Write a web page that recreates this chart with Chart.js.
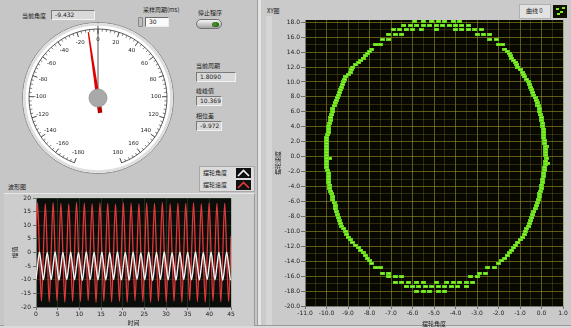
<!DOCTYPE html>
<html><head><meta charset="utf-8">
<script src="https://cdn.jsdelivr.net/npm/chart.js@4"></script>
<style>
html,body{margin:0;padding:0;}
body{width:571px;height:328px;overflow:hidden;background:#c6c6c6;position:relative;font-family:"Noto Sans CJK SC","DejaVu Sans",sans-serif;}
.abs{position:absolute;}
.lbl{position:absolute;font-size:6px;color:#1a1a1a;white-space:nowrap;line-height:8px;}
.ind{position:absolute;background:#d9d9d9;border:1px solid;border-color:#7a7a7a #f2f2f2 #f2f2f2 #7a7a7a;font-size:6px;padding-left:3px;box-sizing:border-box;font-family:"DejaVu Sans",sans-serif;color:#222;white-space:nowrap;}
.ctl{position:absolute;background:#fafafa;border:1px solid;border-color:#6a6a6a #eeeeee #eeeeee #6a6a6a;font-size:6px;padding-left:3px;box-sizing:border-box;font-family:"DejaVu Sans",sans-serif;color:#222;}
canvas{position:absolute;}
</style></head>
<body>
<!-- panels -->
<div class="abs" style="left:257px;top:0;width:1px;height:328px;background:#9c9c9c"></div>
<div class="abs" style="left:258px;top:0;width:3px;height:328px;background:#e4e4e4"></div>
<div class="abs" style="left:261px;top:0;width:310px;height:325px;background:#cacaca"></div>
<div class="abs" style="left:266px;top:16px;width:6px;height:309px;background:#d6d6d6"></div>
<div class="abs" style="left:0;top:325px;width:571px;height:1px;background:#9a9a9a"></div>
<div class="abs" style="left:0;top:326px;width:571px;height:2px;background:#dadada"></div>
<div class="abs" style="left:4px;top:193px;width:250px;height:132px;background:#cdcdcd;border-top:1px solid #e6e6e6;border-right:1px solid #9a9a9a"></div>

<!-- gauge area controls -->
<div class="lbl" style="left:22px;top:12px;">当前角度</div>
<div class="ind" style="left:51px;top:10px;width:44px;height:10px;line-height:8px;">-9.432</div>
<div class="lbl" style="left:143px;top:6px;">采样周期(ms)</div>
<div class="abs" style="left:138px;top:17px;width:5px;height:10px;background:#bdbdbd;border:1px solid #888;box-sizing:border-box;border-radius:1px"></div>
<div class="ctl" style="left:145px;top:17px;width:24px;height:10px;line-height:8px;">30</div>
<div class="lbl" style="left:198px;top:9px;">停止程序</div>
<div class="abs" style="left:196px;top:19px;width:26px;height:10px;border-radius:5px;background:linear-gradient(#f6f6f6,#a4a4a4);border:1px solid #707070;box-sizing:border-box"><div class="abs" style="left:15px;top:1.5px;width:7px;height:5px;border-radius:3px;background:radial-gradient(circle at 40% 40%,#4f9a2c,#1c4d10)"></div></div>
<div class="lbl" style="left:196px;top:62px;">当前周期</div>
<div class="ind" style="left:196px;top:72px;width:40px;height:10px;line-height:8px;">1.8090</div>
<div class="lbl" style="left:196px;top:87px;">峰峰值</div>
<div class="ind" style="left:196px;top:96px;width:26px;height:10px;line-height:8px;">10.369</div>
<div class="lbl" style="left:196px;top:112px;">相位差</div>
<div class="ind" style="left:196px;top:121px;width:26px;height:10px;line-height:8px;">-9.972</div>

<!-- waveform legend -->
<div class="abs" style="left:199px;top:166px;width:56px;height:26px;background:#dcdcdc;border:1px solid #a8a8a8;box-sizing:border-box"></div>
<div class="lbl" style="left:203px;top:169px;">摆轮角度</div>
<div class="lbl" style="left:203px;top:181px;">摆轮速度</div>
<svg class="abs" style="left:236px;top:168px" width="15" height="10"><rect width="15" height="10" fill="#111"/><polyline points="2,8 7.5,2.5 13,8" fill="none" stroke="#f4f4f4" stroke-width="1.6"/></svg>
<svg class="abs" style="left:236px;top:180px" width="15" height="10"><rect width="15" height="10" fill="#111"/><polyline points="2,8 7.5,2.5 13,8" fill="none" stroke="#e23a3a" stroke-width="1.6"/></svg>
<div class="lbl" style="left:8px;top:183px;">波形图</div>

<!-- xy labels -->
<div class="lbl" style="left:267px;top:7px;">XY图</div>
<div class="abs" style="left:519px;top:4px;width:32px;height:15px;background:#e2e2e2;border:1px solid #b0b0b0;box-sizing:border-box"></div>
<div class="lbl" style="left:526px;top:7px;">曲线 0</div>
<svg class="abs" style="left:553px;top:5px" width="14" height="13"><rect width="14" height="13" fill="#101000"/><rect x="3" y="3" width="3" height="2" fill="#7cf020"/><rect x="7" y="6" width="3" height="2" fill="#7cf020"/><rect x="4" y="8" width="3" height="2" fill="#7cf020"/><rect x="9" y="2" width="3" height="2" fill="#7cf020"/></svg>

<canvas id="gauge" width="152" height="152" style="left:22px;top:22px"></canvas>
<canvas id="wave" width="258" height="138" style="left:0px;top:190px"></canvas>
<canvas id="xy" width="309" height="328" style="left:262px;top:0px"></canvas>

<script>
// ---------------- data ----------------
const gaugeTickLabels = [-180,-160,-140,-120,-100,-80,-60,-40,-20,0,20,40,60,80,100,120,140,160,180];
const gaugeValue = -9.432;

const waveTicksX = [0,5,10,15,20,25,30,35,40,45];
const waveTicksY = [-20,-15,-10,-5,0,5,10,15,20];
const waveTime = [0,0.35,0.8,1.25,1.7,2.15,2.6,3.05,3.5,3.95,4.4,4.85,5.3,5.75,6.2,6.65,7.1,7.55,8.0,8.45,8.9,9.35,9.8,10.25,10.7,11.15,11.6,12.05,12.5,12.95,13.4,13.85,14.3,14.75,15.2,15.65,16.1,16.55,17.0,17.45,17.9,18.35,18.8,19.25,19.7,20.15,20.6,21.05,21.5,21.95,22.4,22.85,23.3,23.75,24.2,24.65,25.1,25.55,26.0,26.45,26.9,27.35,27.8,28.25,28.7,29.15,29.6,30.05,30.5,30.95,31.4,31.85,32.3,32.75,33.2,33.65,34.1,34.55,35.0,35.45,35.9,36.35,36.8,37.25,37.7,38.15,38.6,39.05,39.5,39.95,40.4,40.85,41.3,41.75,42.2,42.65,43.1,43.55,44.0,44.45,44.9,45];
const speedWave = [6.2,
 18.2,0.3,-17.8,-0.2, 17.9,0.1,-18.1,0.2, 18.3,-0.2,-17.7,0.1, 18.0,0.2,-18.2,-0.1, 17.8,0.0,-17.9,0.3,
 18.4,0.1,-18.0,-0.2, 18.1,-0.1,-17.6,0.2, 17.9,0.3,-18.3,0.0, 18.2,0.1,-17.8,-0.1, 18.0,-0.2,-18.1,0.2,
 17.7,0.2,-17.9,0.1, 18.3,0.0,-18.2,-0.2, 18.1,0.1,-17.7,0.0, 17.9,-0.1,-18.0,0.3, 18.2,0.2,-18.3,-0.1,
 18.0,0.0,-17.8,0.1, 18.4,0.1,-18.1,-0.2, 17.8,-0.2,-17.9,0.2, 18.1,0.3,-18.2,0.0, 18.0,0.1,-17.6,-0.1,
 18.3,-0.1,-18.0,0.2, 17.9,0.2,-18.3,0.1, 18.2,0.0,-17.8,-0.2, 18.0,0.1,-18.1,0.0, 18.1,-0.2,-17.9,0.1,
 6.1];
const angleWave = [-9.8,
 -5.1,0.1,-4.9,-10.0, -5.0,-0.1,-5.1,-9.9, -4.9,0.2,-5.0,-10.1, -5.1,0.0,-4.9,-9.9, -5.0,0.1,-5.2,-10.0,
 -4.8,-0.1,-5.0,-10.2, -5.1,0.2,-4.9,-9.9, -5.0,0.0,-5.1,-10.0, -4.9,0.1,-5.0,-10.1, -5.2,-0.1,-4.8,-9.9,
 -5.0,0.2,-5.1,-10.0, -4.9,0.0,-5.0,-10.1, -5.1,0.1,-4.9,-9.8, -5.0,-0.2,-5.1,-10.0, -4.8,0.1,-5.0,-10.2,
 -5.1,0.0,-4.9,-9.9, -5.0,0.2,-5.2,-10.0, -4.9,-0.1,-5.0,-10.1, -5.1,0.1,-4.8,-9.9, -5.0,0.0,-5.1,-10.0,
 -4.9,0.2,-5.0,-10.1, -5.2,-0.1,-4.9,-9.9, -5.0,0.1,-5.1,-10.0, -4.9,0.0,-5.0,-10.2, -5.1,0.1,-4.9,-10.0,
 -9.8];

const xyTicksX = [-11,-10,-9,-8,-7,-6,-5,-4,-3,-2,-1,0,1];
const xyTicksY = [-20,-18,-16,-14,-12,-10,-8,-6,-4,-2,0,2,4,6,8,10,12,14,16,18];
// XY samples: top/bottom runs and both sides (angle, speed)
const xyAngle = [
 -5.9,-5.5,-5.1,-4.8,-4.5,-4.1,-3.8,
 -6.4,-6.1,-5.8,-5.5,-5.2,-4.9,-4.6,-4.3,-4.0,-3.7,-3.4,
 -6.9,-6.6,-6.3,-6.0,-5.6,-4.9,-4.0,-3.7,-3.4,-3.1,-2.8,
 -7.1,-6.8,-6.5,-3.0,-2.7,-2.4,
 -7.4,-7.1,-2.4,-2.1,
 -7.7,-7.5,-2.0,-1.8,
 -7.9,-1.7, -8.1,-1.5, -8.3,-1.4, -8.5,-1.2, -8.8,-1.1, -8.9,-0.9, -9.1,-0.8, -9.2,-0.6, -9.3,-0.5, -9.4,-0.4,
 -9.5,-0.3, -9.6,-0.2, -9.7,-0.1, -9.75,-0.05, -9.8,0.0, -9.9,0.05, -9.9,0.1, -10.0,0.1, -10.0,0.15, -10.0,0.2,
 -10.0,0.2, -10.0,0.2, -10.0,0.15, -9.9,0.1, -9.9,0.05, -9.85,0.0, -9.8,-0.05, -9.7,-0.1, -9.65,-0.2, -9.6,-0.3,
 -9.5,-0.4, -9.4,-0.5, -9.3,-0.6, -9.1,-0.75, -9.0,-0.9, -8.8,-1.1, -8.5,-1.3, -8.3,-1.5, -8.1,-1.7, -7.9,-2.0,
 -7.7,-7.5,-2.2,-2.5,
 -7.4,-7.1,-2.6,-2.9,
 -7.1,-6.8,-6.5,-3.0,-3.3,
 -6.8,-6.5,-6.2,-5.8,-5.5,-4.9,-4.4,-4.1,-3.8,-3.5,-3.2,
 -6.3,-6.0,-5.7,-5.4,-5.1,-4.8,-4.5,-4.2,-3.9,-3.5,
 -5.8,-5.5,-5.2,-4.8,-4.5,
 -9.85,0.3,0.25,-0.2,-9.55,-0.55,-1.0,
 -8.0,-1.6, -8.2,-1.45, -8.4,-1.3, -8.65,-1.15, -8.85,-1.0, -9.0,-0.85, -9.15,-0.7, -9.25,-0.55, -9.35,-0.45, -9.45,-0.35,
 -9.55,-0.25, -9.65,-0.15, -9.7,-0.1, -9.8,0.0, -9.85,0.05, -9.9,0.1, -9.95,0.1, -10.0,0.15, -10.0,0.2, -10.0,0.2,
 -10.0,0.25, -10.0,0.2, -9.95,0.15, -9.9,0.1, -9.9,0.05, -9.85,0.0, -9.75,-0.1, -9.7,-0.15, -9.6,-0.25, -9.55,-0.35,
 -9.45,-0.45, -9.35,-0.55, -9.2,-0.7, -9.05,-0.8, -8.9,-1.0, -8.65,-1.2, -8.4,-1.4, -8.2,-1.6, -8.0,-1.85
];
const xySpeed = [
 18.15,18.15,18.15,18.15,18.15,18.15,18.15,
 17.6,17.6,17.6,17.6,17.6,17.6,17.6,17.6,17.6,17.6,17.6,
 17.0,17.0,17.0,17.0,17.0,17.0,17.0,17.0,17.0,17.0,17.0,
 16.4,16.4,16.4,16.4,16.4,16.4,
 15.7,15.7,15.7,15.7,
 15.0,15.0,15.0,15.0,
 14.4,14.4, 13.8,13.8, 13.2,13.2, 12.6,12.6, 12.0,12.0, 11.3,11.3, 10.7,10.7, 10.0,10.0, 9.3,9.3, 8.6,8.6,
 7.9,7.9, 7.2,7.2, 6.4,6.4, 5.6,5.6, 4.9,4.9, 4.1,4.1, 3.3,3.3, 2.5,2.5, 1.8,1.8, 1.0,1.0,
 0.2,0.2, -0.6,-0.6, -1.4,-1.4, -2.2,-2.2, -3.0,-3.0, -3.8,-3.8, -4.6,-4.6, -5.4,-5.4, -6.2,-6.2, -7.0,-7.0,
 -7.8,-7.8, -8.6,-8.6, -9.3,-9.3, -10.0,-10.0, -10.8,-10.8, -11.5,-11.5, -12.2,-12.2, -12.9,-12.9, -13.6,-13.6, -14.3,-14.3,
 -14.9,-14.9,-14.9,-14.9,
 -15.6,-15.6,-15.6,-15.6,
 -16.1,-16.1,-16.1,-16.1,-16.1,
 -16.8,-16.8,-16.8,-16.8,-16.8,-16.8,-16.8,-16.8,-16.8,-16.8,-16.8,
 -17.4,-17.4,-17.4,-17.4,-17.4,-17.4,-17.4,-17.4,-17.4,-17.4,
 -18.0,-18.0,-18.0,-18.0,-18.0,
 -0.2,-0.9,1.4,6.8,-7.4,-9.0,-11.1,
 14.1,14.1, 13.5,13.5, 12.9,12.9, 12.3,12.3, 11.65,11.65, 11.0,11.0, 10.35,10.35, 9.65,9.65, 8.95,8.95, 8.25,8.25,
 7.55,7.55, 6.8,6.8, 6.0,6.0, 5.25,5.25, 4.5,4.5, 3.7,3.7, 2.9,2.9, 2.15,2.15, 1.4,1.4, 0.6,0.6,
 -0.2,-0.2, -1.0,-1.0, -1.8,-1.8, -2.6,-2.6, -3.4,-3.4, -4.2,-4.2, -5.0,-5.0, -5.8,-5.8, -6.6,-6.6, -7.4,-7.4,
 -8.2,-8.2, -8.95,-8.95, -9.65,-9.65, -10.4,-10.4, -11.15,-11.15, -11.85,-11.85, -12.55,-12.55, -13.25,-13.25, -13.95,-13.95
];

// ---------------- helpers ----------------
const numFont = {family:'DejaVu Sans', size:6};
const cjkFont = {family:'Noto Sans CJK SC', size:6, lineHeight:1.2};
const plotBg = {
  id:'plotBg',
  beforeDraw(chart, args, opts){
    const {ctx, chartArea:a} = chart;
    if(!a || !opts || !opts.color) return;
    ctx.save(); ctx.fillStyle = opts.color;
    ctx.fillRect(a.left, a.top, a.right-a.left, a.bottom-a.top);
    ctx.restore();
  }
};

// ---------------- gauge ----------------
const gaugeSweep = 160;
const gaugeFace = {
  id:'gaugeFace',
  afterDatasetsDraw(chart){
    const arc = chart.getDatasetMeta(0).data[0];
    const p = arc.getProps(['x','y','outerRadius'], true);
    const cx = p.x, cy = p.y, R = p.outerRadius;
    const ctx = chart.ctx;
    const ang = v => (-90 + v*gaugeSweep/180) * Math.PI/180;
    ctx.save();
    ctx.strokeStyle = '#dedede'; ctx.lineWidth = 2.5;
    ctx.beginPath(); ctx.arc(cx, cy, R-2, 0, Math.PI*2); ctx.stroke();
    const rs = R-6.5;
    ctx.strokeStyle = '#333'; ctx.lineWidth = 0.8;
    ctx.beginPath(); ctx.arc(cx, cy, rs, ang(-180), ang(180)); ctx.stroke();
    for(let v=-180; v<=180; v+=4){
      const a = ang(v), major = (v % 20 === 0);
      const r2 = major ? rs-5 : rs-2.5;
      ctx.beginPath();
      ctx.moveTo(cx+Math.cos(a)*rs, cy+Math.sin(a)*rs);
      ctx.lineTo(cx+Math.cos(a)*r2, cy+Math.sin(a)*r2);
      ctx.lineWidth = major ? 0.9 : 0.6; ctx.stroke();
    }
    ctx.fillStyle = '#222'; ctx.font = '5.5px "DejaVu Sans"';
    ctx.textAlign = 'center'; ctx.textBaseline = 'middle';
    const rl = R-17.5;
    gaugeTickLabels.forEach(v => {
      const a = ang(v);
      ctx.fillText(String(v), cx+Math.cos(a)*rl, cy+Math.sin(a)*rl);
    });
    // needle
    const a = ang(gaugeValue);
    const ux = Math.cos(a), uy = Math.sin(a), nx = -uy, ny = ux;
    ctx.fillStyle = '#b80000';
    ctx.beginPath();
    ctx.moveTo(cx - ux*15 + nx*2.2, cy - uy*15 + ny*2.2);
    ctx.lineTo(cx - ux*15 - nx*2.2, cy - uy*15 - ny*2.2);
    ctx.lineTo(cx - nx*2.2, cy - ny*2.2);
    ctx.lineTo(cx + nx*2.2, cy + ny*2.2);
    ctx.closePath(); ctx.fill();
    ctx.fillStyle = '#e00000';
    const L = R-9;
    ctx.beginPath();
    ctx.moveTo(cx + nx*1.8, cy + ny*1.8);
    ctx.lineTo(cx + ux*L + nx*0.6, cy + uy*L + ny*0.6);
    ctx.lineTo(cx + ux*L - nx*0.6, cy + uy*L - ny*0.6);
    ctx.lineTo(cx - nx*1.8, cy - ny*1.8);
    ctx.closePath(); ctx.fill();
    // hub
    ctx.fillStyle = '#a9a9a9'; ctx.strokeStyle = '#939393'; ctx.lineWidth = 0.8;
    ctx.beginPath(); ctx.arc(cx, cy, 9, 0, Math.PI*2); ctx.fill(); ctx.stroke();
    ctx.restore();
  }
};
new Chart(document.getElementById('gauge'), {
  type:'pie',
  data:{labels:['face'], datasets:[{data:[1], backgroundColor:'#ffffff', borderColor:'#8e8e8e', borderWidth:1}]},
  options:{responsive:false, animation:false, events:[], layout:{padding:0},
    plugins:{legend:{display:false}, tooltip:{enabled:false}}},
  plugins:[gaugeFace]
});

// ---------------- waveform ----------------
new Chart(document.getElementById('wave'), {
  type:'line',
  data:{datasets:[
    {label:'摆轮角度', data: waveTime.map((t,i)=>({x:t, y:angleWave[i]})), borderColor:'#f2f2f2', borderWidth:1.4, pointRadius:0, cubicInterpolationMode:'monotone', fill:false},
    {label:'摆轮速度', data: waveTime.map((t,i)=>({x:t, y:speedWave[i]})), borderColor:'#e0393b', borderWidth:1.3, pointRadius:0, cubicInterpolationMode:'monotone', fill:false}
  ]},
  options:{
    responsive:false, animation:false, events:[],
    layout:{padding:{top:8, right:27, left:0, bottom:0}},
    plugins:{legend:{display:false}, tooltip:{enabled:false}, plotBg:{color:'#0b0d0a'}},
    scales:{
      x:{type:'linear', min:0, max:45,
        afterBuildTicks: s => { s.ticks = waveTicksX.map(v=>({value:v})); },
        afterFit: s => { s.height = 21; },
        ticks:{font:numFont, color:'#222', padding:1, maxRotation:0, autoSkip:false},
        grid:{color:'rgba(70,125,70,0.4)', lineWidth:0.8, tickLength:3, tickColor:'#555'},
        border:{color:'#777'},
        title:{display:true, text:'时间', font:cjkFont, color:'#222', padding:{top:0,bottom:2}}},
      y:{type:'linear', min:-20, max:20,
        afterBuildTicks: s => { s.ticks = waveTicksY.map(v=>({value:v})); },
        afterFit: s => { s.width = 36; },
        ticks:{font:numFont, color:'#222', padding:2, autoSkip:false},
        grid:{color:'rgba(70,125,70,0.4)', lineWidth:0.8, tickLength:3, tickColor:'#555'},
        border:{color:'#777'},
        title:{display:true, text:'幅值', font:cjkFont, color:'#222', padding:{top:11,bottom:0}}}
    }
  },
  plugins:[plotBg]
});

// ---------------- XY graph ----------------
const dot = document.createElement('canvas');
dot.width = 5; dot.height = 3;
(function(){ const c = dot.getContext('2d'); c.fillStyle = '#5ed418'; c.fillRect(0,0,5,3); c.fillStyle = '#a4ff40'; c.fillRect(1,1,3,1); })();
const isInt = v => Math.abs(v - Math.round(v)) < 1e-6;
new Chart(document.getElementById('xy'), {
  type:'scatter',
  data:{datasets:[{label:'曲线 0', data: xyAngle.map((x,i)=>({x, y:xySpeed[i]})), pointStyle: dot, pointRadius:2, backgroundColor:'#7cf020', borderWidth:0}]},
  options:{
    responsive:false, animation:false, events:[],
    layout:{padding:{top:20, right:8, left:0, bottom:0}},
    plugins:{legend:{display:false}, tooltip:{enabled:false}, plotBg:{color:'#080800'}},
    scales:{
      x:{type:'linear', min:-11, max:1,
        afterBuildTicks: s => { const t=[]; xyTicksX.forEach((v,i)=>{ t.push({value:v}); if(i<xyTicksX.length-1) t.push({value:v+0.5}); }); s.ticks = t; },
        afterFit: s => { s.height = 22; },
        ticks:{font:numFont, color:'#222', padding:1, maxRotation:0, autoSkip:false, callback:v => isInt(v) ? v.toFixed(1) : ''},
        grid:{color: c => isInt(c.tick.value) ? 'rgba(150,150,40,0.75)' : 'rgba(110,110,30,0.45)', lineWidth:0.8, tickLength:3,
              tickColor: c => isInt(c.tick.value) ? '#555' : 'rgba(0,0,0,0)'},
        border:{color:'#777'},
        title:{display:true, text:'摆轮角度', font:cjkFont, color:'#222', padding:{top:0,bottom:1}}},
      y:{type:'linear', min:-20, max:18.3,
        afterBuildTicks: s => { const t=[]; xyTicksY.forEach((v,i)=>{ t.push({value:v}); if(i<xyTicksY.length-1) t.push({value:v+1}); }); s.ticks = t; },
        afterFit: s => { s.width = 43; },
        ticks:{font:numFont, color:'#222', padding:1, autoSkip:false, callback:v => (Math.round(v) % 2 === 0) ? v.toFixed(1) : ''},
        grid:{color: c => (Math.round(c.tick.value) % 2 === 0) ? 'rgba(150,150,40,0.75)' : 'rgba(110,110,30,0.45)', lineWidth:0.8, tickLength:4,
              tickColor: c => (Math.round(c.tick.value) % 2 === 0) ? '#555' : 'rgba(0,0,0,0)'},
        border:{color:'#777'},
        title:{display:true, text:'摆轮速度', font:cjkFont, color:'#222', padding:{top:12,bottom:0}}}
    }
  },
  plugins:[plotBg]
});
</script>
</body></html>
